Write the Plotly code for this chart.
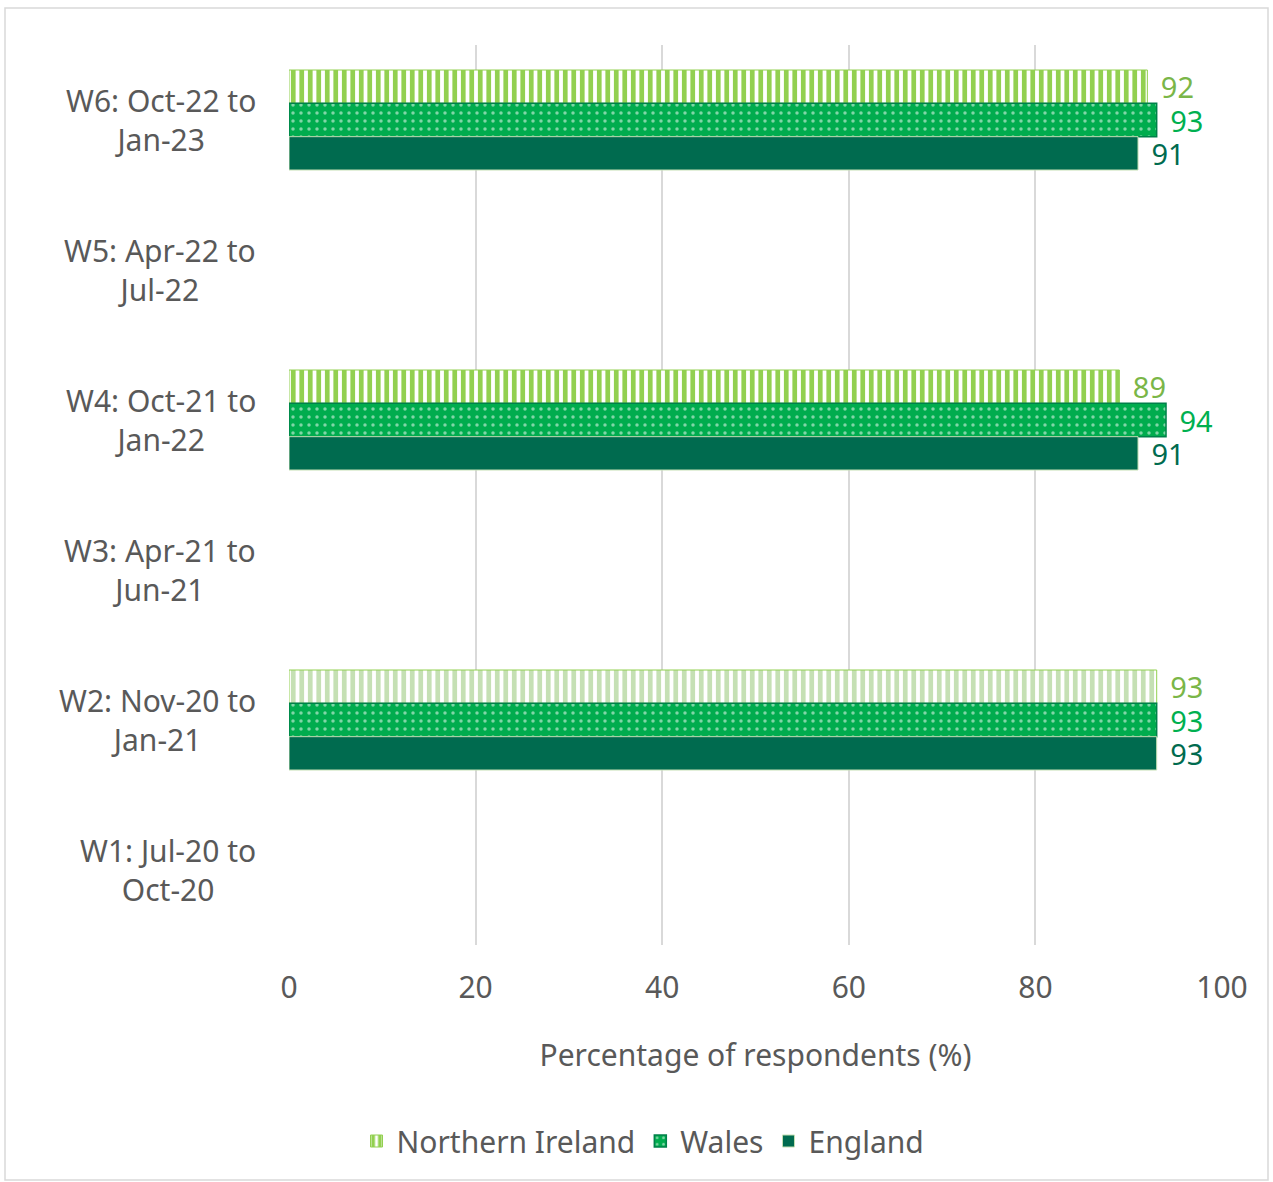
import plotly.graph_objects as go

# Survey waves (top to bottom) and share of respondents per nation (%)
waves = [
    "W6: Oct-22 to<br>Jan-23",
    "W5: Apr-22 to<br>Jul-22",
    "W4: Oct-21 to<br>Jan-22",
    "W3: Apr-21 to<br>Jun-21",
    "W2: Nov-20 to<br>Jan-21",
    "W1: Jul-20 to<br>Oct-20",
]
northern_ireland = [92, None, 89, None, 93, None]
wales = [93, None, 94, None, 93, None]
england = [91, None, 91, None, 93, None]

x_ticks = [0, 20, 40, 60, 80, 100]

FONT = "Noto Sans"
GREY = "#595959"
FS = 30
LABEL_FS = 29

W, H = 1273, 1182
ML, MR, MT, MB = 289, 51, 45, 237
PW = W - ML - MR
PH = H - MT - MB

ni_fg = ["#92D050", "#92D050", "#92D050", "#92D050", "#C5E0B4", "#92D050"]
ni_text = "#7AB648"
label_tpl = " \u200a%{x}"

fig = go.Figure()

fig.add_trace(go.Bar(
    name="Northern Ireland", y=waves, x=northern_ireland, orientation="h",
    marker=dict(
        color="white",
        line=dict(color="#92D050", width=1),
        pattern=dict(shape="|", fillmode="replace", bgcolor="white",
                     fgcolor=ni_fg, size=8.5, solidity=0.55),
    ),
    texttemplate=label_tpl, textposition="outside", constraintext="none",
    textfont=dict(color=ni_text, size=LABEL_FS, family=FONT),
    cliponaxis=False,
))
fig.add_trace(go.Bar(
    name="Wales", y=waves, x=wales, orientation="h",
    marker=dict(
        color="#00AC4E",
        line=dict(color="#00804A", width=1.5),
        pattern=dict(shape=".", fillmode="overlay", fgcolor="white",
                     size=8, solidity=0.15),
    ),
    texttemplate=label_tpl, textposition="outside", constraintext="none",
    textfont=dict(color="#00B050", size=LABEL_FS, family=FONT),
    cliponaxis=False,
))
fig.add_trace(go.Bar(
    name="England", y=waves, x=england, orientation="h",
    marker=dict(color="#006B4F", line=dict(color="#C5E0B4", width=1)),
    texttemplate=label_tpl, textposition="outside", constraintext="none",
    textfont=dict(color="#006B4F", size=LABEL_FS, family=FONT),
    cliponaxis=False,
))


def px_x(p):
    return (p - ML) / PW


def px_y(p):
    return 1 - (p - MT) / PH


# Outer frame around the whole chart
fig.add_shape(type="rect", xref="paper", yref="paper",
              x0=px_x(5), x1=px_x(1268), y0=px_y(1180), y1=px_y(8),
              line=dict(color="#D9D9D9", width=1.5), fillcolor="rgba(0,0,0,0)",
              layer="below")

# Centre-aligned two-line category labels
for w in waves:
    fig.add_annotation(
        xref="paper", yref="y", x=px_x(258), y=w, xanchor="right",
        yanchor="middle", align="center", showarrow=False, text=w,
        font=dict(size=FS, color=GREY, family=FONT),
    )

fig.update_layout(
    width=W, height=H,
    margin=dict(l=ML, r=MR, t=MT, b=MB),
    paper_bgcolor="white", plot_bgcolor="white",
    barmode="group", bargap=1/3, bargroupgap=0,
    font=dict(family=FONT, color=GREY, size=FS),
    showlegend=True,
    legend=dict(orientation="h", x=px_x(643), xanchor="center",
                y=px_y(1141), yanchor="middle",
                font=dict(size=FS, color=GREY),
                tracegroupgap=0),
    xaxis=dict(
        range=[0, 100], tickvals=x_ticks, showgrid=True,
        gridcolor="#D9D9D9", gridwidth=2, zeroline=False,
        showline=False, ticks="", ticklabelstandoff=22,
        tickfont=dict(size=FS, color=GREY),
        title=dict(text="Percentage of respondents (%)", standoff=38,
                   font=dict(size=FS, color=GREY)),
    ),
    yaxis=dict(
        categoryorder="array", categoryarray=waves, autorange="reversed",
        showgrid=False, showline=False, ticks="", showticklabels=False,
    ),
)

fig.write_html("out.html")
